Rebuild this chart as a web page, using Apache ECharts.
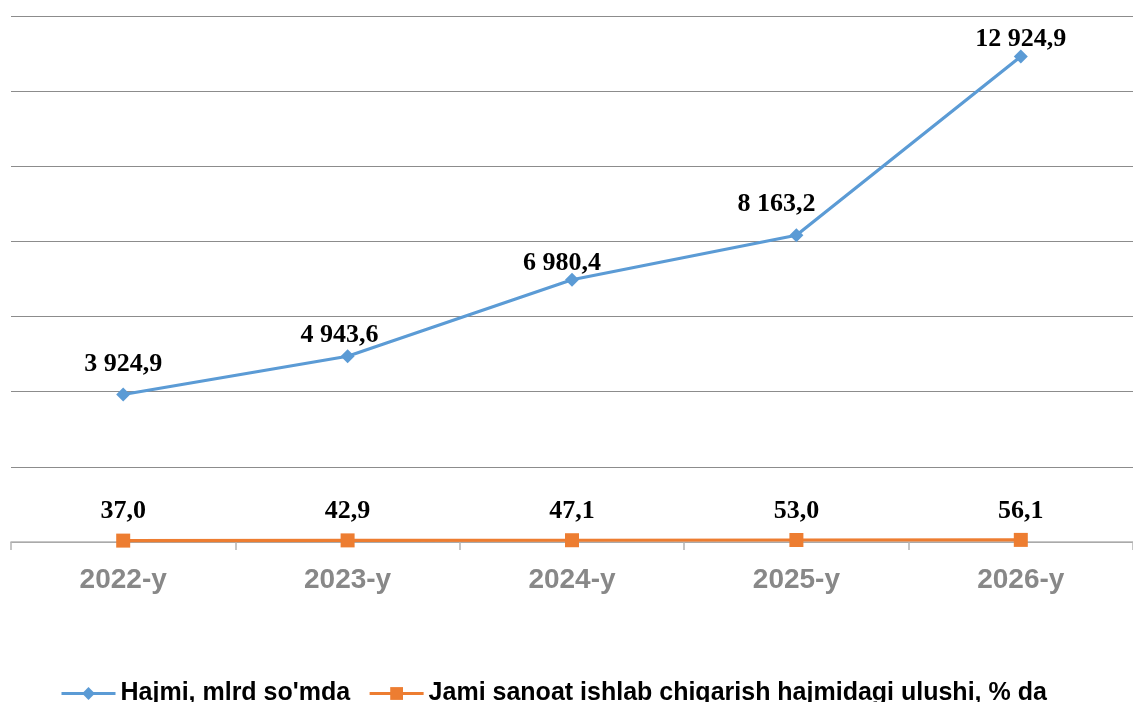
<!DOCTYPE html>
<html><head><meta charset="utf-8">
<script src="https://cdn.jsdelivr.net/npm/echarts@6/dist/echarts.min.js"></script>
<style>html,body{margin:0;padding:0;background:#fff}#c{width:1133px;height:702px}</style>
</head><body><div id="c"></div>
<script>
const categories = ['2022-y','2023-y','2024-y','2025-y','2026-y'];
const volume = [3924.9, 4943.6, 6980.4, 8163.2, 12924.9];
const share = [37.0, 42.9, 47.1, 53.0, 56.1];
const seriesNames = ['Hajmi, mlrd so\'mda', 'Jami sanoat ishlab chiqarish hajmidagi ulushi, % da'];

function fmt(v){
  const s = v.toFixed(1).split('.');
  const int = s[0].replace(/\B(?=(\d{3})+(?!\d))/g, ' ');
  return int + ',' + s[1];
}
const blueOffsets = [[0,-10],[-8,-1],[-10,4],[-20,-11],[0,3]];

const chart = echarts.init(document.getElementById('c'));
chart.setOption({
  animation:false,
  grid:{left:11,right:-1,top:16,bottom:160},
  legend:{
    top:676, left:55,
    itemWidth:54, itemHeight:16, itemGap:18,
    lineStyle:{width:3},
    textStyle:{fontFamily:'Liberation Sans, Arial',fontWeight:'bold',fontSize:25,color:'#000'},
    data:seriesNames
  },
  xAxis:{
    type:'category', data:categories, boundaryGap:true,
    axisLine:{lineStyle:{color:'#b4b4b4',width:1.5}},
    axisTick:{show:true,length:8,lineStyle:{color:'#b4b4b4',width:1.5}},
    axisLabel:{fontFamily:'Liberation Sans, Arial',fontWeight:'bold',fontSize:28,color:'#888888',margin:24}
  },
  yAxis:{
    type:'value', min:0, max:14000, interval:2000,
    axisLabel:{show:false}, axisLine:{show:false}, axisTick:{show:false},
    splitLine:{lineStyle:{color:'#8c8c8c',width:1.2}}
  },
  series:[
    {
      name:seriesNames[0], type:'line', data:volume.map((v,i)=>({value:v,label:{offset:blueOffsets[i]}})),
      symbol:'diamond', symbolSize:14,
      lineStyle:{color:'#5B9BD5',width:3.2}, itemStyle:{color:'#5B9BD5'},
      label:{show:true,position:'top',distance:0,formatter:p=>fmt(p.value),
        fontFamily:'Liberation Serif, Times New Roman',fontWeight:'bold',fontSize:26,color:'#000'}
    },
    {
      name:seriesNames[1], type:'line', data:share,
      symbol:'rect', symbolSize:14,
      lineStyle:{color:'#ED7D31',width:3.2}, itemStyle:{color:'#ED7D31'},
      label:{show:true,position:'top',distance:9,formatter:p=>fmt(p.value),
        fontFamily:'Liberation Serif, Times New Roman',fontWeight:'bold',fontSize:26,color:'#000'}
    }
  ]
});
</script></body></html>
